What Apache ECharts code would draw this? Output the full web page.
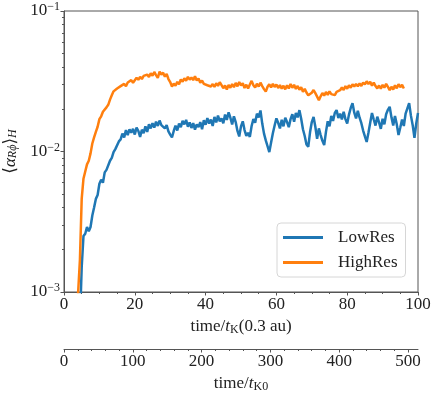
<!DOCTYPE html>
<html>
<head>
<meta charset="utf-8">
<script src="https://cdn.jsdelivr.net/npm/echarts@6/dist/echarts.min.js"></script>
<style>
  html, body { margin: 0; padding: 0; background: #fff; }
  #chart { width: 436px; height: 396px; }
</style>
</head>
<body>
<div id="chart"></div>
<script>
// <alpha_Rphi>_H, values in units of 1e-3, sampled every dt from the start time
var dt = 0.5;
var lowResStart = 4.5;
var lowRes = [
  0.6, 1.5, 2.5, 2.6, 2.9, 2.7, 2.9, 3.5, 4.0, 4.6,
  4.9, 5.9, 6.3, 6.0, 7.1, 7.4, 7.6, 8.6, 9.0, 9.9,
  10.4, 10.1, 11.8, 12.2, 13.4, 12.6, 14.2, 13.1, 14.4, 13.6,
  14.5, 13.2, 14.8, 14.0, 12.7, 14.3, 13.5, 15.1, 13.8, 15.6,
  14.6, 15.9, 14.8, 16.3, 15.2, 16.6, 15.4, 15.9, 14.6, 15.4,
  13.9, 13.2, 12.6, 14.0, 15.3, 14.1, 15.8, 14.9, 16.5, 15.6,
  16.8, 15.0, 16.1, 14.7, 15.9, 14.3, 15.6, 14.9, 16.2, 14.4,
  16.7, 15.5, 17.3, 15.8, 16.9, 15.2, 17.6, 16.1, 18.0, 16.4,
  17.2, 15.9, 18.3, 16.8, 19.0, 17.4, 15.6, 17.8, 16.2, 14.0,
  12.8, 15.1, 16.4, 14.2, 12.9, 13.6, 12.7, 15.2, 17.0, 16.0,
  18.6, 17.5, 19.6, 15.8, 13.4, 12.0, 10.9, 9.9, 11.6, 13.5,
  15.3, 17.2, 16.0, 14.6, 16.8, 15.1, 17.4, 16.2, 14.9, 17.0,
  18.4, 16.3, 18.8, 17.5, 19.7, 17.1, 14.4, 12.9, 11.2, 10.8,
  13.7, 16.2, 17.6, 15.0, 12.3, 14.6, 13.1, 11.9, 11.1, 13.8,
  16.4, 15.1, 17.9, 16.5, 18.8, 19.7, 17.3, 18.6, 16.9, 19.2,
  17.0, 15.8, 18.3, 20.4, 22.1, 18.9, 17.2, 19.5, 17.4, 15.9,
  14.1, 12.8, 11.7, 13.6, 16.0, 18.8, 16.9, 15.3, 17.7, 16.1,
  14.5, 17.1, 15.6, 18.4, 19.8, 20.8, 17.5, 15.3, 17.9, 15.6,
  13.1, 14.8, 16.9, 15.2, 18.6, 20.3, 22.1, 18.0, 15.4, 12.5,
  15.8, 18.8
];
var highResStart = 3.5;
var highRes = [
  0.5, 1.0, 1.7, 4.6, 6.4, 7.2, 8.1, 8.6, 9.7, 11.4,
  12.6, 13.8, 15.0, 17.0, 17.8, 19.2, 19.0, 20.6, 21.5, 23.4,
  25.1, 26.8, 26.0, 28.1, 27.3, 29.2, 28.4, 30.3, 29.1, 31.0,
  30.2, 32.2, 30.9, 31.6, 33.5, 32.4, 34.0, 32.8, 34.5, 33.7,
  35.3, 33.9, 36.1, 34.6, 36.8, 35.0, 33.4, 37.0, 35.2, 36.4,
  34.1, 35.6, 32.8, 31.2, 29.0, 30.4, 29.4, 31.3, 30.1, 32.6,
  31.4, 33.2, 31.9, 34.0, 32.5, 33.6, 32.2, 34.3, 32.0, 33.1,
  30.9, 32.0, 30.3, 31.2, 29.6, 30.5, 29.0, 30.2, 28.8, 30.6,
  29.3, 31.1, 29.7, 28.2, 29.5, 27.6, 29.8, 28.4, 30.2, 28.7,
  30.8, 29.1, 31.2, 29.5, 30.6, 28.3, 29.9, 28.1, 30.0, 31.8,
  29.6, 28.5, 30.4, 29.0, 30.9, 29.2, 27.8, 26.7, 28.9, 30.1,
  28.6, 30.3, 28.8, 30.0, 28.3, 29.7, 28.0, 29.4, 27.7, 29.6,
  28.1, 30.2, 28.4, 29.8, 27.9, 29.3, 27.5, 28.7, 26.6, 27.9,
  26.3, 25.1, 24.4, 26.2, 27.4, 26.0, 24.6, 23.2, 24.7, 26.1,
  25.0, 26.5, 25.3, 26.8, 25.6, 26.3, 25.2, 26.6, 25.9, 27.3,
  28.6, 27.4, 29.2, 28.0, 29.6, 28.4, 30.1, 29.0, 30.3, 29.1,
  30.5, 29.3, 31.0, 30.0, 31.6, 30.2, 31.3, 29.4, 30.9, 29.2,
  28.1, 29.5, 28.0, 29.8, 28.5, 30.3, 28.8, 27.3, 28.9, 27.6,
  29.6, 28.2, 30.1, 28.7, 29.9, 28.1
];

var yMinorTicks = [0.002, 0.003, 0.004, 0.005, 0.006, 0.007, 0.008, 0.009,
                   0.02, 0.03, 0.04, 0.05, 0.06, 0.07, 0.08, 0.09];
var x2Ticks = [0, 100, 200, 300, 400, 500];
var x2MinorTicks = [20, 40, 60, 80, 120, 140, 160, 180, 220, 240, 260, 280,
                    320, 340, 360, 380, 420, 440, 460, 480];
var x2Max = 514.5;

var FONT = '"Liberation Serif", "DejaVu Serif", serif';
var TXT = '#222';
var AX = '#555';

function toPairs(start, vals) {
  return vals.map(function (v, i) { return [start + i * dt, v * 1e-3]; });
}

var chart = echarts.init(document.getElementById('chart'));

var subRich = {
  it: { fontFamily: FONT, fontSize: 17, fontStyle: 'italic', color: TXT },
  sub: { fontFamily: FONT, fontSize: 12, color: TXT, verticalAlign: 'bottom', padding: [6, 0, 0, 0] },
  subit: { fontFamily: FONT, fontSize: 12, fontStyle: 'italic', color: TXT, verticalAlign: 'bottom', padding: [6, 0, 0, 0] }
};

chart.setOption({
  animation: false,
  grid: {
    left: 64, right: 18, top: 11, bottom: 104,
    outerBoundsMode: 'none', containLabel: false,
    show: true, borderColor: AX, borderWidth: 1, backgroundColor: 'transparent'
  },
  legend: {
    orient: 'vertical', left: 277, top: 223,
    data: ['LowRes', 'HighRes'],
    icon: 'rect', itemWidth: 40, itemHeight: 3, itemGap: 8,
    padding: [6, 8, 6, 6],
    borderColor: '#d6d6d6', borderWidth: 1, borderRadius: 4,
    backgroundColor: 'rgba(255,255,255,0.8)',
    textStyle: { fontFamily: FONT, fontSize: 17, color: TXT, padding: [0, 0, 0, 10] }
  },
  xAxis: [
    {
      type: 'value', min: 0, max: 100, interval: 20, position: 'bottom',
      axisLine: { onZero: false, lineStyle: { color: AX } },
      axisTick: { length: 3.5 },
      minorTick: { show: true, splitNumber: 4, length: 2, lineStyle: { color: AX } },
      splitLine: { show: false },
      axisLabel: { fontFamily: FONT, fontSize: 17, color: TXT, margin: 4 },
      name: 'time/{it|t}{sub|K}(0.3 au)',
      nameLocation: 'middle', nameGap: 26,
      nameTextStyle: { fontFamily: FONT, fontSize: 17, color: TXT, rich: subRich }
    },
    {
      type: 'value', min: 0, max: x2Max, position: 'bottom', offset: 57,
      axisLine: { onZero: false, lineStyle: { color: AX } },
      axisTick: { length: 3.5, customValues: x2Ticks },
      splitLine: { show: false },
      axisLabel: { fontFamily: FONT, fontSize: 17, color: TXT, margin: 4, customValues: x2Ticks },
      name: 'time/{it|t}{sub|K0}',
      nameLocation: 'middle', nameGap: 22,
      nameTextStyle: { fontFamily: FONT, fontSize: 17, color: TXT, rich: subRich }
    },
    {
      type: 'value', min: 0, max: x2Max, position: 'bottom', offset: 57,
      axisLine: { show: false, onZero: false },
      axisTick: { length: 2, customValues: x2MinorTicks, lineStyle: { color: AX } },
      axisLabel: { show: false },
      splitLine: { show: false }
    }
  ],
  yAxis: [
    {
      type: 'log', logBase: 10, min: 0.001, max: 0.1,
      axisLine: { show: true, onZero: false, lineStyle: { color: AX } },
      axisTick: { show: true, length: 3.5 },
      splitLine: { show: false },
      axisLabel: {
        margin: 4,
        formatter: function (v) {
          return '{b|10}{s|\u2212' + Math.round(-Math.log10(v)) + '}';
        },
        rich: {
          b: { fontFamily: FONT, fontSize: 17, color: TXT, lineHeight: 20 },
          s: { fontFamily: FONT, fontSize: 12, color: TXT, verticalAlign: 'top', lineHeight: 12 }
        }
      },
      name: '\u27e8{it|\u03b1}{subit|R\u03d5}\u27e9{subit|H}',
      nameLocation: 'middle', nameGap: 36, nameRotate: 90,
      nameTextStyle: { fontFamily: FONT, fontSize: 17, color: TXT, rich: subRich }
    },
    {
      // minor ticks of the log axis, placed on a linear axis in log10 space
      type: 'value', min: -3, max: -1, position: 'left',
      axisLine: { show: false, onZero: false },
      axisTick: { show: true, length: 2, lineStyle: { color: AX },
        customValues: yMinorTicks.map(function (v) { return Math.log10(v); }) },
      axisLabel: { show: false },
      splitLine: { show: false }
    }
  ],
  series: [
    {
      name: 'LowRes', type: 'line', xAxisIndex: 0, yAxisIndex: 0,
      showSymbol: false, symbol: 'none', clip: true,
      lineStyle: { color: '#1f77b4', width: 2.5 }, itemStyle: { color: '#1f77b4' },
      data: toPairs(lowResStart, lowRes)
    },
    {
      name: 'HighRes', type: 'line', xAxisIndex: 0, yAxisIndex: 0,
      showSymbol: false, symbol: 'none', clip: true,
      lineStyle: { color: '#ff7f0e', width: 2.5 }, itemStyle: { color: '#ff7f0e' },
      data: toPairs(highResStart, highRes)
    }
  ]
});
</script>
</body>
</html>
